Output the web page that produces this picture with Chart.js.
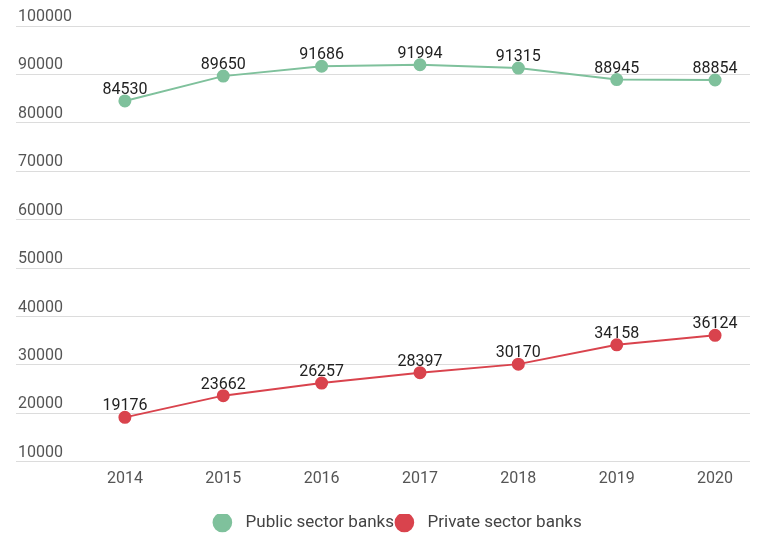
<!DOCTYPE html>
<html>
<head>
<meta charset="utf-8">
<script src="https://cdn.jsdelivr.net/npm/chart.js@4"></script>
<style>
  body { margin: 0; background: #fff; }
</style>
</head>
<body>
<canvas id="bankChart" width="762" height="535"></canvas>
<script>
// years on the x axis
const years = [2014, 2015, 2016, 2017, 2018, 2019, 2020];
const publicBanks = [84530, 89650, 91686, 91994, 91315, 88945, 88854];
const privateBanks = [19176, 23662, 26257, 28397, 30170, 34158, 36124];
const seriesNames = ['Public sector banks', 'Private sector banks'];

const greenColor = '#7fc19c';
const redColor = '#d9434d';

// draws the value above each point
const valueLabels = {
  id: 'valueLabels',
  afterDatasetsDraw(chart) {
    const ctx = chart.ctx;
    ctx.save();
    ctx.font = '16px Roboto';
    ctx.fillStyle = '#222';
    ctx.textAlign = 'center';
    ctx.textBaseline = 'bottom';
    chart.data.datasets.forEach((ds, i) => {
      const meta = chart.getDatasetMeta(i);
      meta.data.forEach((pt, j) => {
        ctx.fillText(ds.data[j].y, pt.x, pt.y - 3);
      });
    });
    ctx.restore();
  }
};

// nudge the legend a bit right and down, like the original
const legendShift = {
  id: 'legendShift',
  afterLayout(chart) {
    chart.legend.left += 20;
    chart.legend.right += 20;
    chart.legend.top += 6;
    chart.legend.bottom += 6;
  }
};

function toPoints(values) {
  return values.map((v, i) => ({ x: years[i], y: v }));
}

const ctx = document.getElementById('bankChart');
new Chart(ctx, {
  type: 'line',
  data: {
    datasets: [
      {
        label: seriesNames[0],
        data: toPoints(publicBanks),
        borderColor: greenColor,
        backgroundColor: greenColor,
        borderWidth: 2,
        pointRadius: 5.5,
        tension: 0
      },
      {
        label: seriesNames[1],
        data: toPoints(privateBanks),
        borderColor: redColor,
        backgroundColor: redColor,
        borderWidth: 2,
        pointRadius: 5.5,
        tension: 0
      }
    ]
  },
  options: {
    responsive: false,
    animation: false,
    layout: { padding: { left: 12, right: 12, top: 26, bottom: 0 } },
    plugins: {
      legend: {
        position: 'bottom',
        labels: {
          usePointStyle: true,
          pointStyle: 'circle',
          boxWidth: 12.5,
          boxHeight: 12.5,
          padding: 0,
          color: '#444',
          font: { family: 'Roboto', size: 17 },
          generateLabels: chart =>
            Chart.defaults.plugins.legend.labels.generateLabels(chart)
              .map(item => ({ ...item, text: '  ' + item.text + ' ' }))
        }
      },
      tooltip: { enabled: false }
    },
    scales: {
      x: {
        type: 'linear',
        min: 2012.893,
        max: 2020.355,
        grid: { display: false },
        border: { display: false },
        afterBuildTicks: scale => {
          scale.ticks = years.map(y => ({ value: y }));
        },
        afterFit: scale => {
          // extra room between year labels and legend
          scale.height += 19;
        },
        ticks: {
          color: '#555',
          padding: 0,
          font: { family: 'Roboto', size: 16 },
          callback: value => String(value)
        }
      },
      y: {
        min: 10000,
        max: 100000,
        grid: { color: '#dcdcdc', drawTicks: false },
        border: { display: false },
        ticks: {
          stepSize: 10000,
          mirror: true,
          padding: 2,
          labelOffset: -9,
          color: '#555',
          font: { family: 'Roboto', size: 16 },
          callback: value => String(value)
        }
      }
    }
  },
  plugins: [valueLabels, legendShift]
});
</script>
</body>
</html>
